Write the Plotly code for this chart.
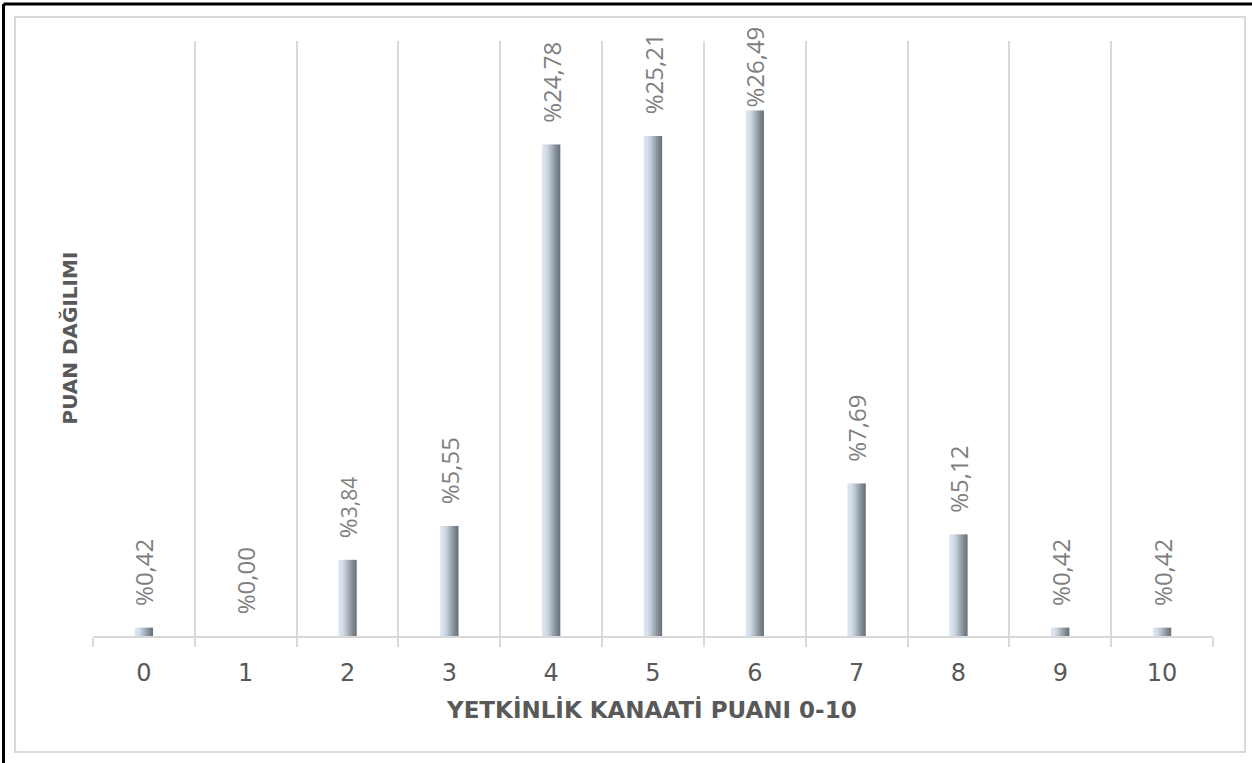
import plotly.graph_objects as go

# ---- data ----
categories = [0, 1, 2, 3, 4, 5, 6, 7, 8, 9, 10]
tick_labels = ["0", "1", "2", "3", "4", "5", "6", "7", "8", "9", "10"]
values = [0.42, 0.00, 3.84, 5.55, 24.78, 25.21, 26.49, 7.69, 5.12, 0.42, 0.42]
value_labels = ["%0,42", "%0,00", "%<span style='font-size:21px'>3,84</span>", "%5,55", "%24,78",
                "%25,21", "%26,49", "%7,69", "%5,12", "%0,42", "%0,42"]
x_title = "YETKİNLİK KANAATİ PUANI 0-10"
y_title = "PUAN DAĞILIMI"

# ---- style ----
grad_colors = ["#dae5f1", "#d6e1ed", "#ccd7e3", "#bec9d4", "#adb7c2",
               "#9ba5af", "#8a939d", "#7b848d", "#6d757e"]
label_pad = [3, 3, 3, 3, 3, 3, 0, 3, 3, 3, 3]   # label gap above the bar (nbsp count)
bar_w = 0.18
n = len(grad_colors)
slice_w = bar_w / n

fig = go.Figure()
for i, col in enumerate(grad_colors):
    fig.add_trace(go.Bar(
        x=categories, y=values,
        width=slice_w * 1.35 if i < n - 1 else slice_w,
        offset=-bar_w / 2 + i * slice_w,
        marker=dict(color=col, line=dict(width=0)),
        hoverinfo="skip", showlegend=False,
    ))

# transparent carrier for the value labels
fig.add_trace(go.Bar(
    x=categories, y=values, width=bar_w,
    marker=dict(color="rgba(0,0,0,0)", line=dict(width=0)),
    text=["\u00a0" * p + t for p, t in zip(label_pad, value_labels)],
    textposition="outside", textangle=-90, constraintext="none",
    cliponaxis=False,
    textfont=dict(family="Open Sans", size=24, color="#7f7f7f"),
    showlegend=False, hoverinfo="skip",
))

minor_vals = [c - 0.5 for c in categories] + [categories[-1] + 0.5]

fig.update_layout(
    width=1252, height=763,
    margin=dict(l=93, r=39, t=41, b=127),
    paper_bgcolor="white", plot_bgcolor="white",
    barmode="overlay",
    xaxis=dict(
        range=[-0.5, 10.5],
        tickmode="array", tickvals=categories, ticktext=tick_labels,
        ticks="outside", ticklen=14, tickcolor="rgba(0,0,0,0)",
        tickfont=dict(family="DejaVu Sans", size=24, color="#595959"),
        showgrid=False, zeroline=False,
        showline=True, linecolor="#d9d9d9", linewidth=1.5,
        minor=dict(tickmode="array", tickvals=minor_vals, ticks="outside",
                   ticklen=9, tickcolor="#d9d9d9", tickwidth=1.5,
                   showgrid=True, gridcolor="#d9d9d9", gridwidth=1.5),
    ),
    yaxis=dict(range=[0, 30], showgrid=False, zeroline=False,
               showticklabels=False, ticks=""),
    font=dict(family="Open Sans", color="#595959"),
    annotations=[
        dict(text=f"<b>{x_title}</b>", xref="paper", yref="paper",
             x=0.499, y=-0.1227, xanchor="center", yanchor="middle",
             showarrow=False,
             font=dict(family="DejaVu Sans", size=23, color="#595959")),
        dict(text=f"<b>{y_title}</b>", xref="paper", yref="paper",
             x=-0.0214, y=0.5, xanchor="center", yanchor="middle",
             textangle=-90, showarrow=False,
             font=dict(family="DejaVu Sans", size=20, color="#595959")),
    ],
    shapes=[
        dict(type="rect", xref="paper", yref="paper",
             x0=-0.0696, x1=1.0286, y0=-0.195, y1=1.0403,
             line=dict(color="#d9d9d9", width=2), fillcolor="rgba(0,0,0,0)"),
        dict(type="line", xref="paper", yref="paper",
             x0=-0.0799, x1=1.04, y0=1.0622, y1=1.0622,
             line=dict(color="black", width=3)),
        dict(type="line", xref="paper", yref="paper",
             x0=-0.0799, x1=-0.0799, y0=1.0622, y1=-0.22,
             line=dict(color="black", width=3)),
    ],
)

fig.write_html("out.html")
